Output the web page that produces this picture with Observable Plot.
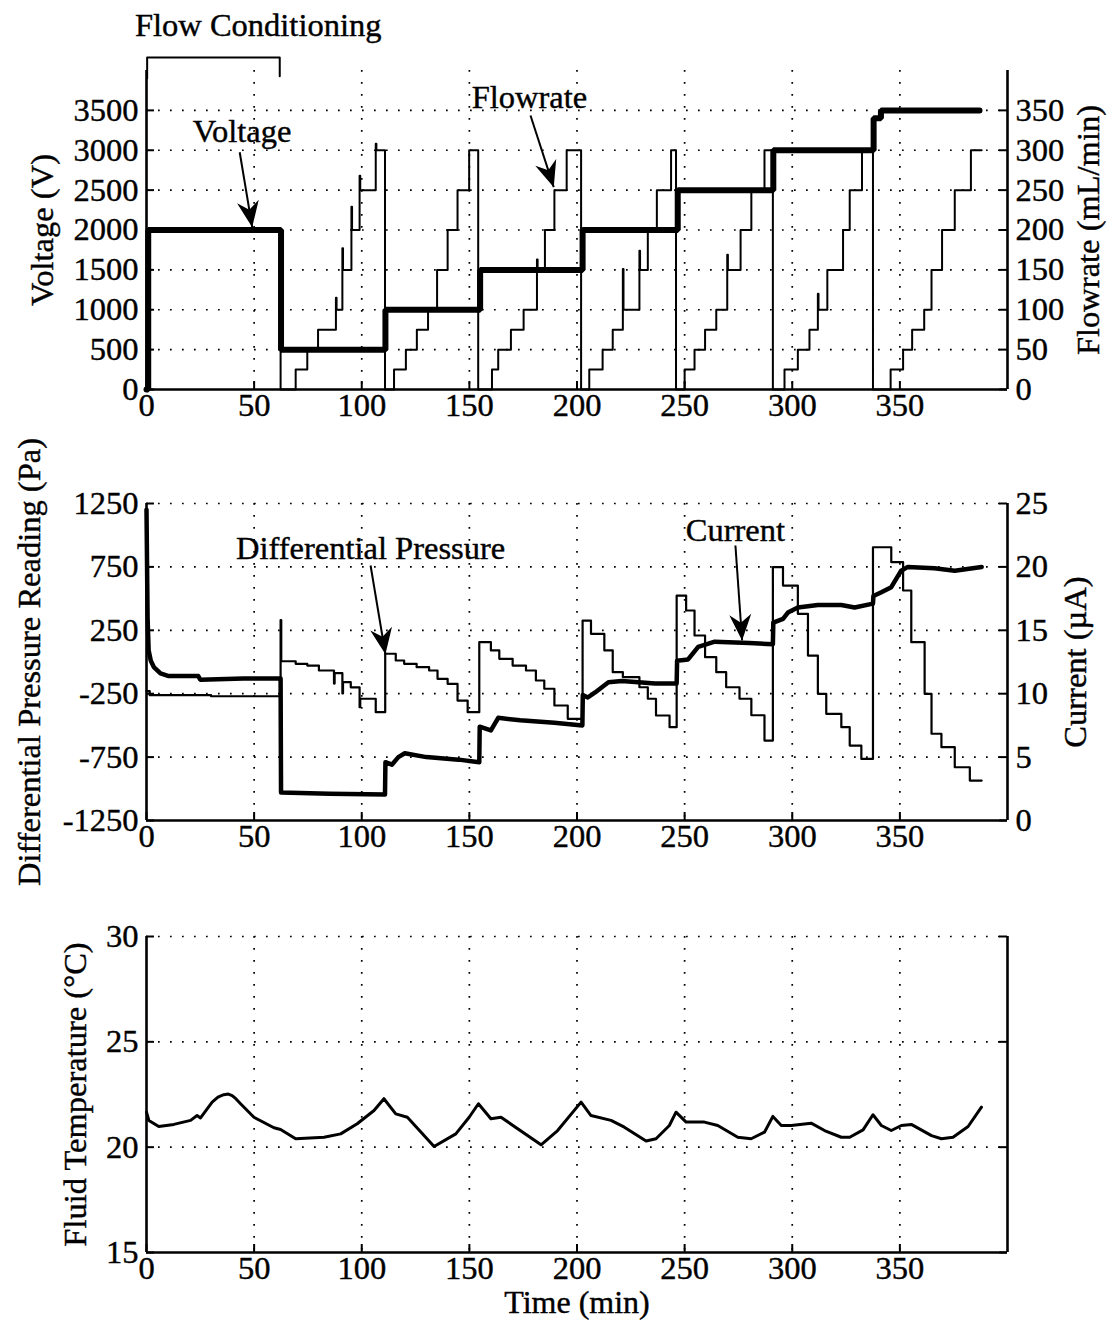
<!DOCTYPE html>
<html><head><meta charset="utf-8">
<script src="https://cdn.jsdelivr.net/npm/d3@7"></script>
<script src="https://cdn.jsdelivr.net/npm/@observablehq/plot@0.6"></script>
<style>
html,body{margin:0;padding:0;background:#fff;}
#chart{width:1113px;height:1331px;position:relative;overflow:hidden;background:#fff;}
#chart svg{display:block;}
</style></head><body><div id="chart"></div>
<script>
// ---------- shared axis ticks ----------
const timeTicks = [0, 50, 100, 150, 200, 250, 300, 350];

// ---------- panel 1: voltage / flowrate ----------
const voltTicks = [0, 500, 1000, 1500, 2000, 2500, 3000, 3500];
const flowTicks = [0, 50, 100, 150, 200, 250, 300, 350];
const voltT = [0, 0.8, 62.5, 111, 155, 202.6, 246.8, 291.2, 337.8, 341.2, 387];
const voltV = [0, 2000, 500, 1000, 1500, 2000, 2500, 3000, 3400, 3500, 3500];
const flowT = [0, 0.8, 62.3,
  69.3, 74.7, 79.7, 88, 88.3, 91, 91.3, 95.2, 95.5, 99, 99.3, 106.5, 106.8, 110.8,
  115, 120.5, 125.6, 130.8, 135, 139.9, 144.5, 149.9, 154.1,
  160.5, 163.4, 169.3, 175.2, 181.4, 181.7, 185.1, 189.5, 195.2, 201.9,
  205.7, 211.9, 216.6, 221.3, 221.6, 229, 229.3, 232.9, 237.1, 243.7, 246,
  250, 254.6, 259.5, 264.7, 269.8, 270.1, 276, 281, 287.1, 291,
  296.4, 302.6, 308, 311.9, 312.2, 316.3, 323.6, 326.7, 332.4, 337.5,
  345.7, 351.5, 355.7, 361.3, 364.7, 369.6, 375.5, 383, 388];
const flowV = [0, 200, 0,
  25, 50, 75, 115, 100, 177, 150, 229, 200, 268, 250, 308, 300, 0,
  25, 50, 75, 100, 150, 200, 250, 300, 0,
  25, 50, 75, 100, 163, 150, 200, 250, 300, 0,
  25, 50, 75, 151, 100, 174, 150, 200, 250, 300, 0,
  25, 50, 75, 100, 169, 150, 200, 250, 300, 0,
  25, 50, 75, 120, 100, 150, 200, 250, 300, 0,
  25, 50, 75, 100, 150, 200, 250, 300, 300];

// ---------- panel 2: differential pressure / current ----------
const presTicks = [-1250, -750, -250, 250, 750, 1250];
const currTicks = [0, 5, 10, 15, 20, 25];
const presT = [0, 1.5, 30, 62.3, 62.6, 69.3, 74.7, 80.1, 87.1, 87.4, 91, 91.3, 94.9, 99, 99.3, 106.5, 110.9,
  115.8, 119.7, 125.5, 131.3, 135.2, 139.9, 144.5, 149.2, 154.6,
  160, 163.9, 170.1, 176.3, 180.9, 184.8, 189.5, 195.7, 202.6,
  206.5, 212.7, 216.6, 221.3, 229, 232.9, 236.7, 243, 246.3,
  250.7, 254.6, 259.5, 264.7, 269.3, 275.5, 281, 287.1, 291,
  295.7, 302.6, 307.3, 311.9, 315.8, 322.8, 326.7, 332.1, 337.5,
  346, 351.5, 355.3, 361.5, 364.7, 369.3, 375.5, 382.5, 388];
const presV = [-230, -262, -270, 330, 6, -14, -28, -67, -170, -88, -248, -159, -200, -356, -290, -396, 65,
  12, -14, -41, -67, -133, -172, -304, -396, 156,
  91, 25, -28, -67, -146, -211, -343, -448, 327,
  222, 91, -80, -120, -199, -290, -422, -514, 524,
  406, 209, 38, -80, -199, -290, -420, -620, 748,
  603, 380, 51, -251, -409, -514, -659, -764, 905,
  787, 564, 156, -251, -566, -672, -830, -935, -935];
const currT = [0, 0.5, 1, 2, 3.4, 6.5, 10, 24, 25, 45, 62.3, 62.5, 85, 110.8, 111, 114, 117, 120, 130, 145,
  154.6, 154.8, 160, 163.4, 173.6, 189.5, 202.5, 202.7, 205, 208.4, 214.6, 220.8, 236.3, 246.3, 246.5,
  251.6, 256.3, 264, 280, 291, 291.2, 295.7, 298, 302.6, 311.9, 322.8, 329, 337.5, 337.7, 341.4,
  346, 350.6, 353.7, 366, 375.5, 388];
const currV = [24.5, 16, 13.4, 12.6, 12.1, 11.6, 11.4, 11.4, 11.1, 11.2, 11.2, 2.2, 2.1, 2.05, 4.6, 4.4, 5.0, 5.3, 5.0, 4.8,
  4.6, 7.4, 7.1, 8.1, 7.9, 7.7, 7.5, 9.9, 9.7, 10.1, 10.9, 11.0, 10.8, 10.8, 12.6,
  12.7, 13.7, 14.1, 14.0, 13.9, 15.6, 15.9, 16.4, 16.8, 17.0, 17.0, 16.8, 17.1, 17.7, 18.0,
  18.4, 19.7, 20.0, 19.9, 19.7, 20.0];

// ---------- panel 3: fluid temperature ----------
const tempTicks = [15, 20, 25, 30];
const tempT = [0, 1.1, 5.7, 12.7, 20.5, 23.5, 25.1, 30.5, 33.2, 35.9, 38, 39.8, 41.5, 43.7, 49.9, 59.2, 62.3, 69.3,
  82.5, 90.2, 97.9, 105.7, 110.3, 115.8, 121.2, 133.6, 143.7, 149.9, 154.2, 160, 164.7, 183.3, 191,
  201.9, 206.5, 215.8, 222, 232.1, 236.7, 242.9, 246, 250.7, 259.2, 265.4, 274.7, 280.9, 287.1, 291,
  294.9, 299.5, 308.8, 315, 322.8, 326.7, 332.9, 337.5, 341.4, 346, 350.7, 355.3, 364.7, 369.3, 374.7,
  381.7, 387.9];
const tempV = [21.66, 21.27, 20.98, 21.08, 21.27, 21.5, 21.39, 22.14, 22.38, 22.49, 22.52, 22.45, 22.3, 22.06, 21.42, 20.92, 20.84, 20.40,
  20.47, 20.63, 21.11, 21.74, 22.30, 21.58, 21.42, 20.03, 20.63, 21.42, 22.06, 21.35, 21.42, 20.11, 20.79,
  22.14, 21.5, 21.27, 20.95, 20.29, 20.40, 21.03, 21.66, 21.19, 21.19, 21.03, 20.47, 20.40, 20.71, 21.46,
  21.03, 21.03, 21.14, 20.79, 20.47, 20.47, 20.82, 21.54, 21.03, 20.79, 21.03, 21.08, 20.55, 20.40, 20.47,
  20.98, 21.90];

// ---------- tables ----------
const zip = (T, V, k) => T.map((t, i) => ({t, [k]: V[i]}));
const voltage = zip(voltT, voltV, "v");
const flow = zip(flowT, flowV, "f");
const pressure = zip(presT, presV, "p");
const current = zip(currT, currV, "c");
const temperature = zip(tempT, tempV, "T");

// ---------- layout helpers ----------
const FONT = "'Liberation Serif','Times New Roman',Times,serif";
const FS = 32.5;    // tick labels
const FA = 32.5;    // annotations and axis titles
const ink = {fill: "black", stroke: "black", strokeWidth: 0.4};  // slightly heavier glyphs, like the scanned original
const W = 1113, ML = 146, MR = 106;
const xPix = d3.scaleLinear([0, 400], [ML, W - MR]);
const vback = {draw(ctx) {
  const L = 26, H = 11;
  ctx.moveTo(0, 0); ctx.lineTo(H, L); ctx.lineTo(0, L * 0.68); ctx.lineTo(-H, L); ctx.closePath();
}};
function arrow(a, yPix) {
  const ux = xPix(a.x2) - xPix(a.x1), uy = yPix(a.y2) - yPix(a.y1);
  const ang = Math.atan2(ux, -uy) * 180 / Math.PI;
  return [
    Plot.link([a], {x1: "x1", y1: "y1", x2: "x2", y2: "y2", stroke: "black", strokeWidth: 2}),
    Plot.dot([a], {x: "x2", y: "y2", symbol: vback, rotate: ang, fill: "black", stroke: "none", r: 8})
  ];
}
const dotted = {stroke: "black", strokeWidth: 1.7, strokeDasharray: "1.7,10.3"};

function panel(o) {
  const [y0] = o.yDomain;
  const marks = [
    Plot.ruleY(o.gridY, {y: d => d, ...dotted}),
    Plot.ruleX(timeTicks.filter(d => d > 0), {x: d => d, ...dotted}),
    Plot.ruleX(timeTicks, {x: d => d, y1: y0, y2: y0 + o.tickLenY, stroke: "black", strokeWidth: 2}),
    Plot.ruleY(o.tickPos, {y: d => d, x1: 0, x2: 3.7, stroke: "black", strokeWidth: 2}),
    Plot.ruleY(o.tickPos, {y: d => d, x1: 396.3, x2: 400, stroke: "black", strokeWidth: 2}),
    ...o.marks,
    Plot.ruleX([0, 400], {x: d => d, stroke: "black", strokeWidth: 2.6}),
    Plot.ruleY([y0], {y: d => d, stroke: "black", strokeWidth: 2.6}),
    Plot.text(timeTicks, {x: d => d, text: d => String(d), frameAnchor: "bottom", textAnchor: "middle", lineAnchor: "top", dy: 3, fontSize: FS, ...ink}),
    Plot.text(o.leftTicks, {y: d => d, text: d => String(d), frameAnchor: "left", textAnchor: "end", dx: -8, fontSize: FS, ...ink}),
    Plot.text([o.leftLabel], {text: d => d, frameAnchor: "left", textAnchor: "middle", rotate: -90, dx: o.leftDx, fontSize: FA, ...ink})
  ];
  if (o.rightTicks) {
    marks.push(Plot.text(o.rightTicks, {y: o.rightToY, text: d => String(d), frameAnchor: "right", textAnchor: "start", dx: 8, fontSize: FS, ...ink}));
    marks.push(Plot.text([o.rightLabel], {text: d => d, frameAnchor: "right", textAnchor: "middle", rotate: -90, dx: o.rightDx, fontSize: FA, ...ink}));
  }
  if (o.extra) marks.push(...o.extra);
  return Plot.plot({
    width: W, height: o.height,
    marginLeft: ML, marginRight: MR, marginTop: o.mt, marginBottom: o.mb,
    x: {domain: [0, 400], axis: null},
    y: {domain: o.yDomain, axis: null},
    style: {fontFamily: FONT, fontSize: FS + "px", color: "black", background: "transparent", overflow: "visible"},
    marks
  });
}

// ---------- panel 1 ----------
const y1Pix = d3.scaleLinear([0, 4000], [430 - 41, 70]);
const p1 = panel({
  height: 430, mt: 70, mb: 41, yDomain: [0, 4000],
  gridY: voltTicks.filter(d => d > 0), tickPos: voltTicks, tickLenY: 100,
  leftTicks: voltTicks, leftLabel: "Voltage (V)", leftDx: -104,
  rightTicks: flowTicks, rightToY: d => d * 10, rightLabel: "Flowrate (mL/min)", rightDx: 81,
  marks: [
    Plot.line(flow, {x: "t", y: d => d.f * 10, curve: "step-after", stroke: "black", strokeWidth: 2}),
    Plot.line(voltage, {x: "t", y: "v", curve: "step-after", stroke: "black", strokeWidth: 6, strokeLinejoin: "miter"})
  ],
  extra: [
    Plot.line([{t: 0.3, v: 3900}, {t: 0.3, v: 4163}, {t: 61.9, v: 4163}, {t: 61.9, v: 3927}], {x: "t", y: "v", stroke: "black", strokeWidth: 2}),
    Plot.text(["Flow Conditioning"], {x: () => 51.9, y: () => 4566, text: d => d, fontSize: FA, ...ink}),
    Plot.text(["Voltage"], {x: () => 44.4, y: () => 3235, text: d => d, fontSize: FA, ...ink}),
    Plot.text(["Flowrate"], {x: () => 177.9, y: () => 3661, text: d => d, fontSize: FA, ...ink}),
    ...arrow({x1: 43.3, y1: 2975, x2: 49.1, y2: 2035}, y1Pix),
    ...arrow({x1: 178.4, y1: 3436, x2: 189.2, y2: 2537}, y1Pix)
  ]
});

// ---------- panel 2 ----------
const y2Pix = d3.scaleLinear([-1250, 1250], [431 - 41, 73]);
const p2 = panel({
  height: 431, mt: 73, mb: 41, yDomain: [-1250, 1250],
  gridY: presTicks.filter(d => d > -1250), tickPos: presTicks, tickLenY: 63,
  leftTicks: presTicks, leftLabel: "Differential Pressure Reading (Pa)", leftDx: -117,
  rightTicks: currTicks, rightToY: d => d * 100 - 1250, rightLabel: "Current (µA)", rightDx: 68,
  marks: [
    Plot.line(pressure, {x: "t", y: "p", curve: "step-after", stroke: "black", strokeWidth: 2.2}),
    Plot.line(current, {x: "t", y: d => d.c * 100 - 1250, stroke: "black", strokeWidth: 4.5})
  ],
  extra: [
    Plot.text(["Differential Pressure"], {x: () => 104.1, y: () => 895, text: d => d, fontSize: FA, ...ink}),
    Plot.text(["Current"], {x: () => 273.6, y: () => 1037, text: d => d, fontSize: FA, ...ink}),
    ...arrow({x1: 104.1, y1: 761, x2: 111.0, y2: 61}, y2Pix),
    ...arrow({x1: 273.6, y1: 919, x2: 276.7, y2: 170}, y2Pix)
  ]
});

// ---------- panel 3 ----------
const p3 = panel({
  height: 470, mt: 75, mb: 79, yDomain: [15, 30],
  gridY: tempTicks.filter(d => d > 15), tickPos: tempTicks, tickLenY: 0.38,
  leftTicks: tempTicks, leftLabel: "Fluid Temperature (°C)", leftDx: -71,
  marks: [
    Plot.line(temperature, {x: "t", y: "T", stroke: "black", strokeWidth: 3})
  ],
  extra: [
    Plot.text(["Time (min)"], {text: d => d, frameAnchor: "bottom", textAnchor: "middle", dy: 60, fontSize: 32, ...ink})
  ]
});

const root = document.getElementById("chart");
root.append(p1, p2, p3);
</script>
</body></html>
